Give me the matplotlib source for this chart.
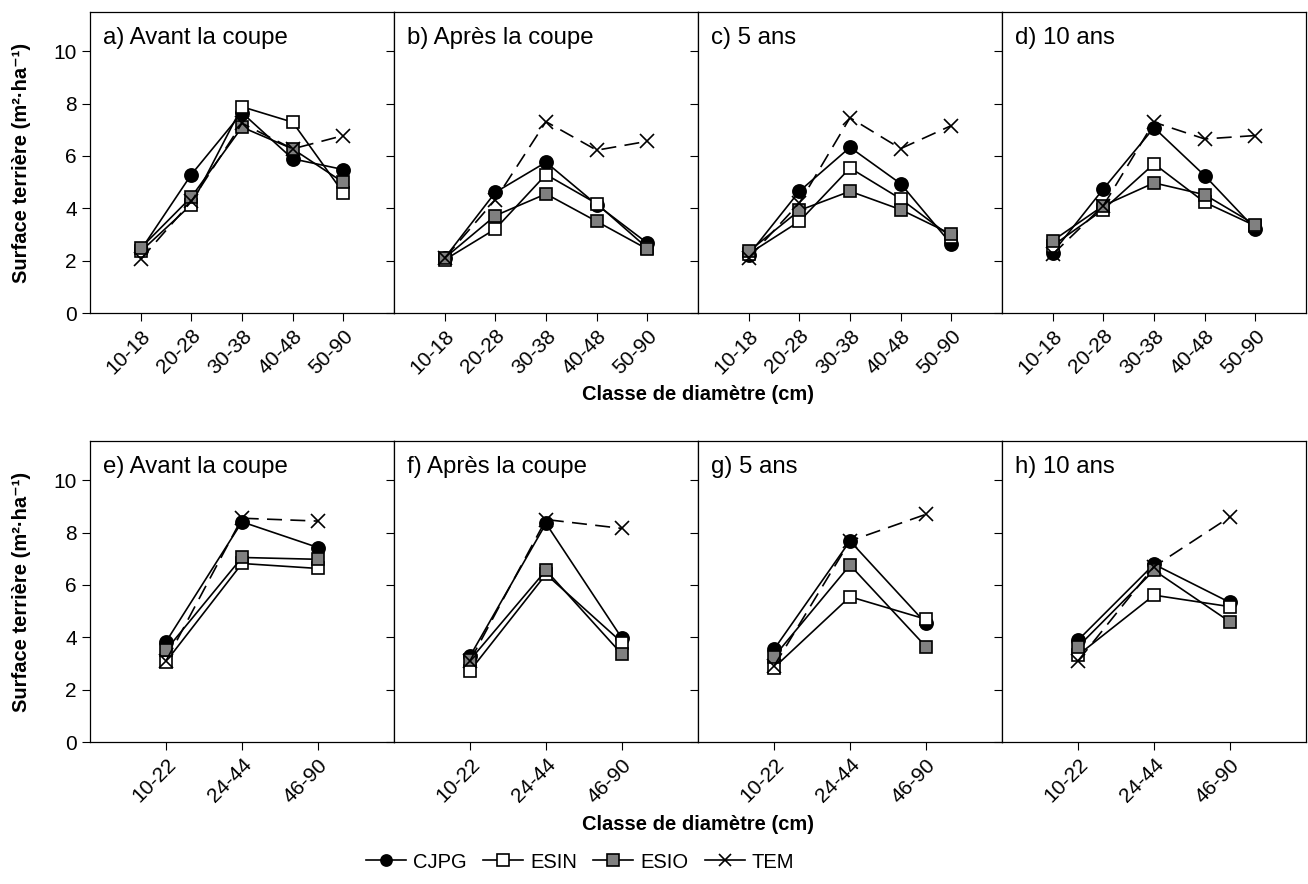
import numpy as np
import matplotlib.pyplot as plt
from matplotlib.lines import Line2D

plt.rcParams['font.family'] = ['Liberation Sans', 'DejaVu Sans']

classes_top = ['10-18', '20-28', '30-38', '40-48', '50-90']
classes_bottom = ['10-22', '24-44', '46-90']
titles_top = ['a) Avant la coupe', 'b) Après la coupe', 'c) 5 ans', 'd) 10 ans']
titles_bottom = ['e) Avant la coupe', 'f) Après la coupe', 'g) 5 ans', 'h) 10 ans']
species = ['CJPG', 'ESIN', 'ESIO', 'TEM']

# one row per panel: avant, après, 5 ans, 10 ans
cjpg_top = [[2.40, 5.29, 7.65, 5.89, 5.48],
            [2.10, 4.61, 5.76, 4.14, 2.67],
            [2.22, 4.65, 6.33, 4.94, 2.63],
            [2.30, 4.74, 7.08, 5.25, 3.21]]
esin_top = [[2.35, 4.14, 7.88, 7.29, 4.59],
            [2.03, 3.21, 5.29, 4.18, 2.48],
            [2.26, 3.50, 5.54, 4.36, 2.90],
            [2.57, 3.95, 5.70, 4.23, 3.33]]
esio_top = [[2.48, 4.43, 7.10, 6.27, 4.99],
            [2.10, 3.72, 4.55, 3.50, 2.44],
            [2.35, 3.92, 4.65, 3.95, 3.01],
            [2.76, 4.10, 4.97, 4.52, 3.37]]
tem_top = [[2.05, 4.26, 7.25, 6.27, 6.78],
           [2.10, 4.33, 7.31, 6.22, 6.56],
           [2.10, 4.20, 7.46, 6.28, 7.16],
           [2.24, 4.10, 7.29, 6.65, 6.78]]

cjpg_bottom = [[3.83, 8.41, 7.43],
               [3.28, 8.35, 3.96],
               [3.54, 7.68, 4.53],
               [3.89, 6.79, 5.33]]
esin_bottom = [[3.07, 6.82, 6.63],
               [2.72, 6.41, 3.80],
               [2.84, 5.55, 4.69],
               [3.32, 5.61, 5.17]]
esio_bottom = [[3.51, 7.05, 6.98],
               [3.13, 6.56, 3.35],
               [3.26, 6.76, 3.64],
               [3.64, 6.56, 4.59]]
tem_bottom = [[3.10, 8.55, 8.44],
              [3.10, 8.50, 8.16],
              [2.90, 7.68, 8.70],
              [3.10, 6.70, 8.60]]

styles = {
    'CJPG': dict(marker='o', mfc='black', ls='-'),
    'ESIN': dict(marker='s', mfc='white', ls='-'),
    'ESIO': dict(marker='s', mfc='#808080', ls='-'),
    'TEM': dict(marker='x', mfc='none', ls=(0, (9, 5))),
}

fig = plt.figure(figsize=(13.08, 8.84), dpi=100)

W, H = 1308, 884
left_px = 90
panel_w = 304
rows = [
    (12, 313, classes_top, titles_top, [cjpg_top, esin_top, esio_top, tem_top]),
    (441, 742, classes_bottom, titles_bottom, [cjpg_bottom, esin_bottom, esio_bottom, tem_bottom]),
]

for top, bot, classes, titles, series in rows:
    for i in range(4):
        ax = fig.add_axes([(left_px + i * panel_w) / W, 1 - bot / H,
                           panel_w / W, (bot - top) / H])
        x = np.arange(1, len(classes) + 1)
        for name, data in zip(species, series):
            st = styles[name]
            ax.plot(x, data[i], color='black', lw=1.2, ls=st['ls'],
                    marker=st['marker'], ms=9.5 if st['marker'] != 's' else 9,
                    mfc=st['mfc'], mec='black', mew=1.2)
        ax.set_xlim(0, len(classes) + 1)
        ax.set_ylim(0, 11.5)
        ax.set_xticks(x)
        ax.set_xticklabels(classes, rotation=45, ha='right', rotation_mode='anchor')
        ax.set_yticks(np.arange(0, 11, 2))
        if i > 0:
            ax.set_yticklabels([])
        ax.tick_params(direction='out', length=6, width=0.8, labelsize=15)
        for s in ax.spines.values():
            s.set_linewidth(0.9)
        ax.text(0.043, 0.915, titles[i], transform=ax.transAxes,
                fontsize=17.3, ha='left', va='center')
    fig.text(698 / W, 1 - (bot + 82) / H, 'Classe de diamètre (cm)',
             fontsize=14.5, fontweight='bold', ha='center', va='center')
    fig.text(22 / W, 1 - ((top + bot) / 2) / H, 'Surface terrière (m²·ha⁻¹)',
             fontsize=14.5, fontweight='bold', ha='center', va='center', rotation=90)

# legend keys use solid lines for every species
handles = [Line2D([], [], color='black', lw=1.2, marker=styles[n]['marker'],
                  ms=8, mfc=styles[n]['mfc'], mec='black', mew=1.2)
           for n in species]
fig.legend(handles, species, loc='center', bbox_to_anchor=(580 / W, 1 - 862 / H),
           ncol=4, frameon=False, handlelength=2.0, columnspacing=0.8,
           handletextpad=0.35, fontsize=14.5)

fig.savefig('out.png', dpi=100)
